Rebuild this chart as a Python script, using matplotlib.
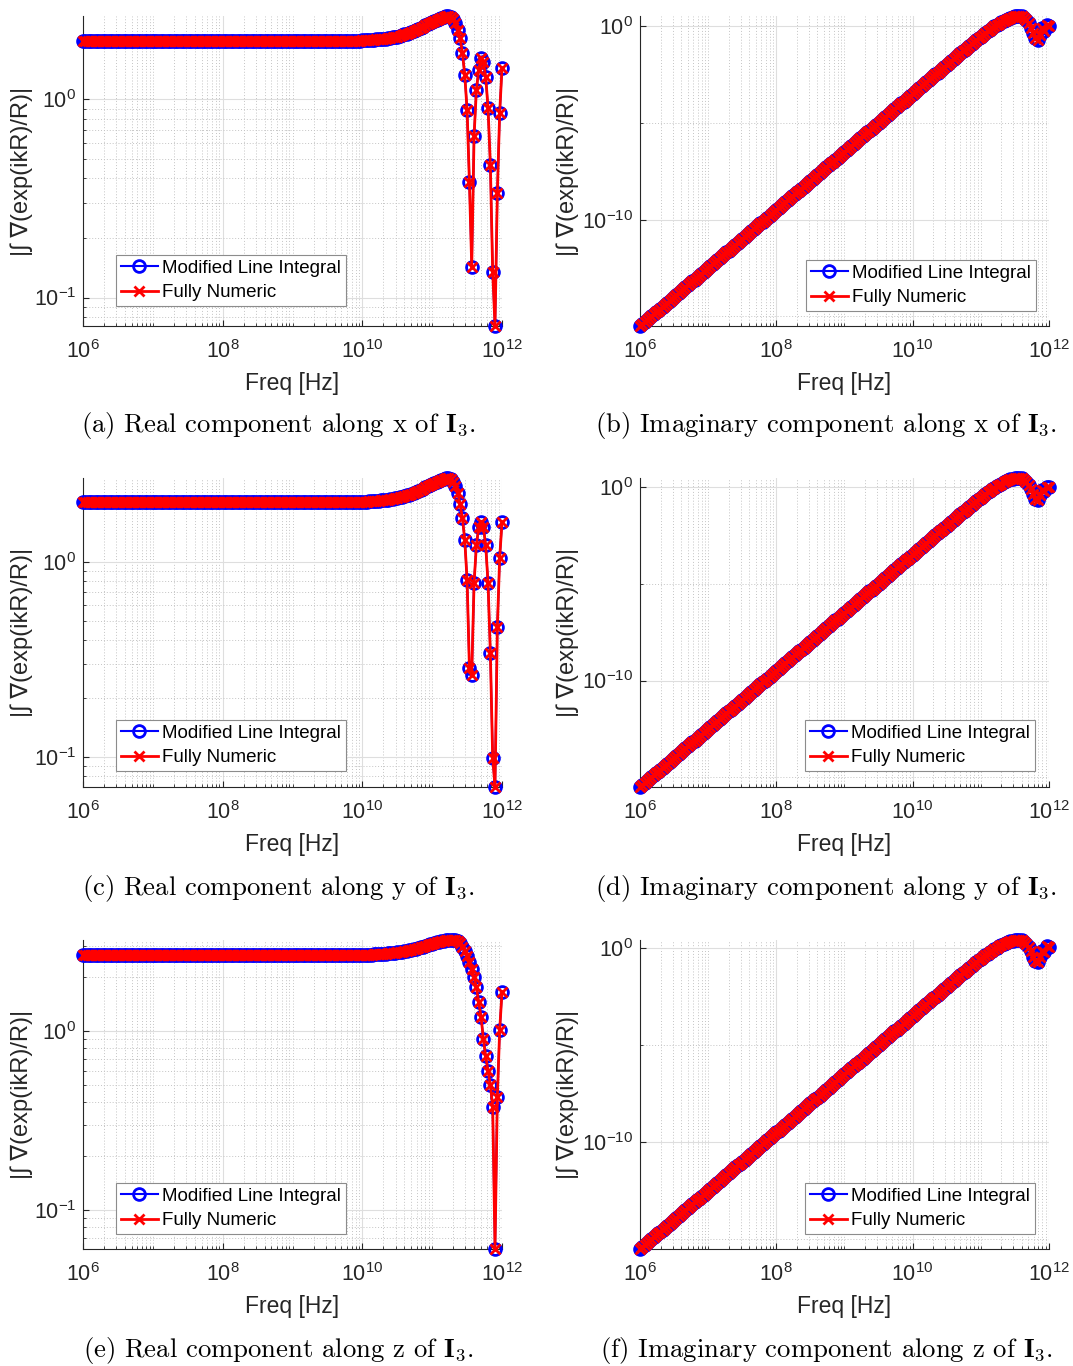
import numpy as np
import matplotlib
matplotlib.use("Agg")
import matplotlib.pyplot as plt
from matplotlib.ticker import FixedLocator, LogLocator, FuncFormatter, NullFormatter

plt.rcParams['font.family'] = ['Liberation Sans', 'DejaVu Sans']
plt.rcParams['mathtext.fontset'] = 'cm'

# frequency sweep: 30 points per decade from 1 MHz to 1 THz
freq = np.logspace(6, 12, 181)

# ---- real part of the integral |I3| (x, y, z components)
re_x = [
    1.98, 1.98, 1.98, 1.98, 1.98, 1.98, 1.98, 1.98, 1.98, 1.98, 1.98, 1.98, 1.98, 1.98, 1.98,
    1.98, 1.98, 1.98, 1.98, 1.98, 1.98, 1.98, 1.98, 1.98, 1.98, 1.98, 1.98, 1.98, 1.98, 1.98,
    1.98, 1.98, 1.98, 1.98, 1.98, 1.98, 1.98, 1.98, 1.98, 1.98, 1.98, 1.98, 1.98, 1.98, 1.98,
    1.98, 1.98, 1.98, 1.98, 1.98, 1.98, 1.98, 1.98, 1.98, 1.98, 1.98, 1.98, 1.98, 1.98, 1.98,
    1.98, 1.98, 1.98, 1.98, 1.98, 1.98, 1.98, 1.98, 1.98, 1.98, 1.98, 1.98, 1.98, 1.98, 1.98,
    1.98, 1.98, 1.98, 1.98, 1.98, 1.98, 1.98, 1.98, 1.98, 1.98, 1.98, 1.98, 1.98, 1.98, 1.98,
    1.98, 1.98, 1.98, 1.98, 1.98, 1.98, 1.98, 1.98, 1.98, 1.98, 1.98, 1.98, 1.98, 1.98, 1.98,
    1.98, 1.98, 1.98, 1.98, 1.98, 1.98, 1.98, 1.98, 1.98, 1.98, 1.98, 1.98, 1.98, 1.98, 1.98,
    1.99, 1.99, 1.99, 2.00, 2.00, 2.00, 2.01, 2.01, 2.02, 2.02, 2.03, 2.04, 2.05, 2.06, 2.07,
    2.08, 2.10, 2.11, 2.13, 2.15, 2.17, 2.19, 2.21, 2.24, 2.27, 2.30, 2.33, 2.37, 2.40, 2.43,
    2.47, 2.50, 2.53, 2.56, 2.59, 2.61, 2.63, 2.64, 2.62, 2.55, 2.42, 2.24, 2.04, 1.72, 1.33,
    0.885, 0.383, 0.143, 0.654, 1.12, 1.41, 1.62, 1.55, 1.30, 0.906, 0.467, 0.135, 0.0718, 0.337, 0.855,
    1.44,
]
re_y = [
    2.03, 2.03, 2.03, 2.03, 2.03, 2.03, 2.03, 2.03, 2.03, 2.03, 2.03, 2.03, 2.03, 2.03, 2.03,
    2.03, 2.03, 2.03, 2.03, 2.03, 2.03, 2.03, 2.03, 2.03, 2.03, 2.03, 2.03, 2.03, 2.03, 2.03,
    2.03, 2.03, 2.03, 2.03, 2.03, 2.03, 2.03, 2.03, 2.03, 2.03, 2.03, 2.03, 2.03, 2.03, 2.03,
    2.03, 2.03, 2.03, 2.03, 2.03, 2.03, 2.03, 2.03, 2.03, 2.03, 2.03, 2.03, 2.03, 2.03, 2.03,
    2.03, 2.03, 2.03, 2.03, 2.03, 2.03, 2.03, 2.03, 2.03, 2.03, 2.03, 2.03, 2.03, 2.03, 2.03,
    2.03, 2.03, 2.03, 2.03, 2.03, 2.03, 2.03, 2.03, 2.03, 2.03, 2.03, 2.03, 2.03, 2.03, 2.03,
    2.03, 2.03, 2.03, 2.03, 2.03, 2.03, 2.03, 2.03, 2.03, 2.03, 2.03, 2.03, 2.03, 2.03, 2.03,
    2.03, 2.03, 2.03, 2.03, 2.03, 2.03, 2.03, 2.03, 2.03, 2.03, 2.03, 2.03, 2.03, 2.03, 2.03,
    2.04, 2.04, 2.04, 2.05, 2.05, 2.05, 2.06, 2.06, 2.07, 2.07, 2.08, 2.09, 2.10, 2.11, 2.12,
    2.13, 2.15, 2.16, 2.18, 2.20, 2.22, 2.24, 2.26, 2.29, 2.32, 2.35, 2.38, 2.42, 2.45, 2.48,
    2.52, 2.55, 2.58, 2.61, 2.64, 2.67, 2.69, 2.70, 2.67, 2.58, 2.45, 2.26, 1.98, 1.68, 1.30,
    0.809, 0.286, 0.263, 0.780, 1.22, 1.51, 1.60, 1.51, 1.22, 0.780, 0.341, 0.0988, 0.0700, 0.464, 1.05,
    1.60,
]
re_z = [
    2.66, 2.66, 2.66, 2.66, 2.66, 2.66, 2.66, 2.66, 2.66, 2.66, 2.66, 2.66, 2.66, 2.66, 2.66,
    2.66, 2.66, 2.66, 2.66, 2.66, 2.66, 2.66, 2.66, 2.66, 2.66, 2.66, 2.66, 2.66, 2.66, 2.66,
    2.66, 2.66, 2.66, 2.66, 2.66, 2.66, 2.66, 2.66, 2.66, 2.66, 2.66, 2.66, 2.66, 2.66, 2.66,
    2.66, 2.66, 2.66, 2.66, 2.66, 2.66, 2.66, 2.66, 2.66, 2.66, 2.66, 2.66, 2.66, 2.66, 2.66,
    2.66, 2.66, 2.66, 2.66, 2.66, 2.66, 2.66, 2.66, 2.66, 2.66, 2.66, 2.66, 2.66, 2.66, 2.66,
    2.66, 2.66, 2.66, 2.66, 2.66, 2.66, 2.66, 2.66, 2.66, 2.66, 2.66, 2.66, 2.66, 2.66, 2.66,
    2.66, 2.66, 2.66, 2.66, 2.66, 2.66, 2.66, 2.66, 2.66, 2.66, 2.66, 2.66, 2.66, 2.66, 2.66,
    2.66, 2.66, 2.66, 2.66, 2.66, 2.66, 2.66, 2.66, 2.66, 2.66, 2.66, 2.66, 2.66, 2.66, 2.66,
    2.66, 2.66, 2.67, 2.67, 2.67, 2.68, 2.68, 2.69, 2.69, 2.70, 2.70, 2.71, 2.72, 2.73, 2.74,
    2.75, 2.76, 2.77, 2.79, 2.80, 2.82, 2.84, 2.86, 2.88, 2.90, 2.93, 2.95, 2.98, 3.01, 3.04,
    3.07, 3.10, 3.13, 3.15, 3.17, 3.19, 3.20, 3.21, 3.22, 3.22, 3.21, 3.17, 3.08, 2.95, 2.80,
    2.62, 2.42, 2.22, 2.00, 1.75, 1.45, 1.20, 0.90, 0.72, 0.60, 0.50, 0.376, 0.0605, 0.428, 1.01,
    1.65,
]

# ---- imaginary part, log10 values; the k^3 rise is shared by all components
im_rise_log = [
    -15.5, -15.4, -15.3, -15.2, -15.1, -15.0, -14.9, -14.8, -14.7, -14.6,
    -14.5, -14.4, -14.3, -14.2, -14.1, -14.0, -13.9, -13.8, -13.7, -13.6,
    -13.5, -13.4, -13.3, -13.2, -13.1, -13.0, -12.9, -12.8, -12.7, -12.6,
    -12.5, -12.4, -12.3, -12.2, -12.1, -12.0, -11.9, -11.8, -11.7, -11.6,
    -11.5, -11.4, -11.3, -11.2, -11.1, -11.0, -10.9, -10.8, -10.7, -10.6,
    -10.5, -10.4, -10.3, -10.2, -10.1, -10.0, -9.9, -9.8, -9.7, -9.6,
    -9.5, -9.4, -9.3, -9.2, -9.1, -9.0, -8.9, -8.8, -8.7, -8.6,
    -8.5, -8.4, -8.3, -8.2, -8.1, -8.0, -7.9, -7.8, -7.7, -7.6,
    -7.5, -7.4, -7.3, -7.2, -7.1, -7.0, -6.9, -6.8, -6.7, -6.6,
    -6.5, -6.4, -6.3, -6.2, -6.1, -6.0, -5.9, -5.8, -5.7, -5.6,
    -5.5, -5.4, -5.3, -5.2, -5.1, -5.0, -4.9, -4.8, -4.7, -4.6,
    -4.5, -4.4, -4.3, -4.2, -4.1, -4.0, -3.9, -3.8, -3.7, -3.6,
    -3.5, -3.4, -3.3, -3.2, -3.1, -3.0, -2.9, -2.8, -2.7, -2.6,
    -2.5, -2.4, -2.3, -2.2, -2.1, -2.0, -1.9, -1.8, -1.7, -1.6,
    -1.5, -1.41, -1.31, -1.22, -1.12, -1.02, -0.92, -0.83, -0.73, -0.64,
]
im_x_tail = [
    -0.54, -0.45, -0.36, -0.27, -0.18, -0.10, -0.02, 0.06, 0.13, 0.20,
    0.27, 0.33, 0.39, 0.43, 0.47, 0.50, 0.52, 0.52, 0.50, 0.43,
    0.32, 0.15, -0.08, -0.36, -0.62, -0.72, -0.45, -0.12, -0.25, 0.05,
    -0.02,
]
im_y_tail = [
    -0.55, -0.46, -0.37, -0.28, -0.20, -0.12, -0.04, 0.03, 0.10, 0.17,
    0.23, 0.29, 0.34, 0.39, 0.42, 0.45, 0.46, 0.46, 0.44, 0.37,
    0.26, 0.10, -0.12, -0.38, -0.60, -0.67, -0.42, -0.15, -0.22, 0.02,
    0.00,
]
im_z_tail = [
    -0.56, -0.47, -0.38, -0.30, -0.22, -0.14, -0.06, 0.01, 0.08, 0.14,
    0.20, 0.25, 0.30, 0.34, 0.37, 0.40, 0.41, 0.41, 0.39, 0.32,
    0.21, 0.04, -0.18, -0.44, -0.66, -0.73, -0.46, -0.14, -0.20, 0.08,
    0.05,
]
im_x = 10 ** np.array(im_rise_log + im_x_tail)
im_y = 10 ** np.array(im_rise_log + im_y_tail)
im_z = 10 ** np.array(im_rise_log + im_z_tail)

captions = [
    r'(a) Real component along x of $\mathbf{I}_3$.',
    r'(b) Imaginary component along x of $\mathbf{I}_3$.',
    r'(c) Real component along y of $\mathbf{I}_3$.',
    r'(d) Imaginary component along y of $\mathbf{I}_3$.',
    r'(e) Real component along z of $\mathbf{I}_3$.',
    r'(f) Imaginary component along z of $\mathbf{I}_3$.',
]
panels = [re_x, im_x, re_y, im_y, re_z, im_z]

W, H = 1073, 1366
fig = plt.figure(figsize=(W / 100, H / 100), dpi=100)

# axes boxes in pixels
col_px = [(83, 502), (640, 1049)]
row_px = [(16, 326), (478, 787), (940, 1249)]
legend_px = [(116, 306), (806, 311), (116, 771), (805, 771), (116, 1234), (805, 1234)]
caption_px = [(278, 425), (826, 425), (278, 888), (826, 888), (278, 1350), (827, 1350)]
ylabel_right_px = [33, 579]

dark = '#262626'
sci = FuncFormatter(lambda v, p: r'$\mathregular{10^{%d}}$' % round(np.log10(v)))

for k, vals in enumerate(panels):
    r, c = divmod(k, 2)
    x0, x1 = col_px[c]
    y0, y1 = row_px[r]
    ax = fig.add_axes([x0 / W, 1 - y1 / H, (x1 - x0) / W, (y1 - y0) / H])
    vals = np.asarray(vals, dtype=float)

    # both methods coincide, so the red curve sits on top of the blue one
    ax.plot(freq, vals, color='b', lw=1.5, marker='o', ms=8.5, mfc='none', mew=2.0,
            clip_on=False, label='Modified Line Integral', zorder=3)
    ax.plot(freq, vals, color='r', lw=2.0, marker='x', ms=7, mew=2.0,
            clip_on=False, label='Fully Numeric', zorder=4)

    ax.set_xscale('log')
    ax.set_yscale('log')
    ax.set_xlim(1e6, 1e12)
    ax.set_ylim(vals.min(), vals.max())

    ax.xaxis.set_major_locator(FixedLocator([1e6, 1e8, 1e10, 1e12]))
    ax.xaxis.set_minor_locator(LogLocator(base=10, subs=np.arange(1, 10), numticks=100))
    if c == 0:
        ax.yaxis.set_major_locator(FixedLocator([1e-1, 1e0]))
        ax.yaxis.set_minor_locator(LogLocator(base=10, subs=np.arange(2, 10), numticks=100))
    else:
        ax.yaxis.set_major_locator(FixedLocator([1e-10, 1e0]))
        ax.yaxis.set_minor_locator(FixedLocator([1e-15, 1e-5]))
    ax.xaxis.set_major_formatter(sci)
    ax.yaxis.set_major_formatter(sci)
    ax.xaxis.set_minor_formatter(NullFormatter())
    ax.yaxis.set_minor_formatter(NullFormatter())

    ax.grid(True, which='major', color='#dedede', lw=0.8, ls='-')
    ax.grid(True, which='minor', color='#c4c4c4', lw=0.7, ls=(0, (1, 2)))
    ax.set_axisbelow(True)

    for s in ('top', 'right'):
        ax.spines[s].set_visible(False)
    for s in ('left', 'bottom'):
        ax.spines[s].set_color(dark)
        ax.spines[s].set_linewidth(0.8)
    ax.tick_params(which='both', direction='in', colors=dark, labelsize=15.5,
                   top=False, right=False)
    ax.tick_params(which='major', length=4)
    ax.tick_params(axis='x', which='major', pad=10)
    ax.tick_params(axis='y', which='major', pad=5)
    ax.tick_params(which='minor', length=2)

    ax.set_xlabel('Freq [Hz]', fontsize=16.5, color=dark)
    ax.xaxis.set_label_coords(0.5, -46 / (y1 - y0))
    ax.set_ylabel('|\u222b \u2207(exp(ikR)/R)|', fontsize=17, color=dark)
    ax.yaxis.set_label_coords(-(x0 - ylabel_right_px[c]) / (x1 - x0), 0.5)

    lx, ly = legend_px[k]
    leg = ax.legend(loc='lower left',
                    bbox_to_anchor=((lx - x0) / (x1 - x0), (y1 - ly) / (y1 - y0)),
                    fontsize=13.5, frameon=True, fancybox=False, framealpha=1,
                    edgecolor='#8c8c8c', borderpad=0.25, labelspacing=0.4,
                    handlelength=2.0, handletextpad=0.2, numpoints=1, borderaxespad=0)
    leg.get_frame().set_linewidth(0.8)

    cx, cy = caption_px[k]
    fig.text(cx / W, 1 - cy / H, captions[k], ha='center', va='center',
             fontsize=19.2, family='cmr10', color='black')

fig.savefig('out.png', dpi=100)
